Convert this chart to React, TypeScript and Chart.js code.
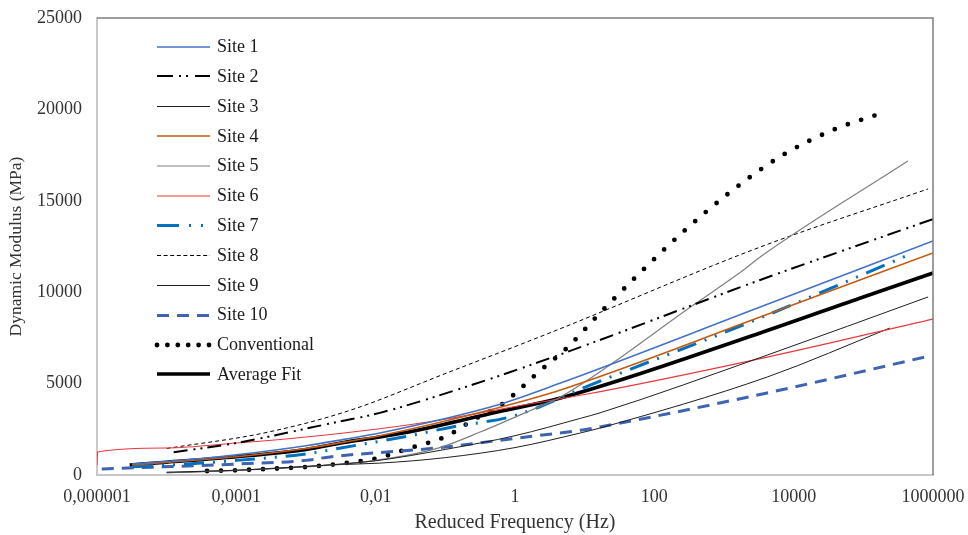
import { useEffect, useRef } from "react";
import { Chart, registerables } from "chart.js";

Chart.register(...registerables);

const seriesNames = [
  "Site 1", "Site 2", "Site 3", "Site 4", "Site 5", "Site 6",
  "Site 7", "Site 8", "Site 9", "Site 10", "Conventional", "Average Fit",
];

// Reduced frequency (Hz) and dynamic modulus (MPa) for each series
const site1Freq = [3.16e-6, 3.16e-5, 1e-4, 1e-3, 3.5e-3, 0.0115, 0.56, 4.5, 3310, 1e6];
const site1Mod = [600, 900, 1100, 1600, 1950, 2300, 3830, 5030, 9190, 12800];

const site2Freq = [1.26e-5, 1e-4, 2.1e-3, 0.0115, 0.25, 4.5, 3310, 1e6];
const site2Mod = [1250, 1750, 2800, 3400, 4950, 6600, 10670, 14000];

const site3Freq = [1e-5, 1e-4, 1e-3, 0.01, 0.1, 1, 8.7, 16.6, 4170, 851000];
const site3Mod = [150, 260, 460, 780, 1400, 2150, 3100, 3400, 6560, 9740];

const site4Freq = [3.16e-6, 1e-4, 1e-3, 3.5e-3, 0.0115, 0.56, 4.5, 3310, 1e6];
const site4Mod = [550, 1000, 1450, 1800, 2150, 3670, 4650, 8640, 12150];

const site5Freq = [1e-5, 1e-4, 1e-3, 0.01, 0.083, 0.316, 1.6, 4.5, 400, 1740, 3310, 436000];
const site5Mod = [140, 250, 450, 800, 1500, 2350, 3500, 4270, 9410, 11100, 11930, 17180];

const site6Freq = [1e-6, 1.02e-6, 1e-5, 1e-4, 1e-3, 0.01, 0.1, 1, 10, 4170, 1e6];
const site6Mod = [550, 1260, 1480, 1750, 2080, 2500, 3050, 3750, 4400, 6450, 8530];

const site7Freq = [3.3e-6, 3.16e-5, 1e-4, 1e-3, 3.16e-3, 0.025, 0.126, 1, 12, 3310, 513000];
const site7Mod = [450, 650, 800, 1150, 1480, 2080, 2630, 3250, 4920, 8590, 12140];

const site8Freq = [1e-5, 2.5e-4, 4e-3, 0.105, 4, 3310, 851000];
const site8Mod = [1450, 2300, 3500, 5580, 7930, 12470, 15650];

const site9Freq = [1e-5, 1e-4, 2.2e-3, 0.0115, 0.1, 1, 8.7, 16.6, 4170, 240000];
const site9Mod = [120, 250, 550, 650, 950, 1500, 2300, 2570, 5360, 8040];

const site10Freq = [1.17e-6, 4e-6, 1e-4, 1e-3, 2.2e-3, 0.085, 1.07, 8.7, 16.6, 4170, 759000];
const site10Mod = [330, 400, 600, 800, 990, 1500, 2020, 2450, 2630, 4490, 6450];

const convFreq = [3.8e-5, 1e-4, 3.16e-4, 1e-3, 3.16e-3, 0.01, 0.0316, 0.105, 0.25, 0.63, 1, 2.1, 5.75, 16.6, 62, 257, 1230, 6300, 36300, 186000];
const convMod = [220, 260, 340, 440, 620, 900, 1480, 2130, 3010, 3830, 4450, 5580, 7000, 8860, 11050, 13290, 15480, 17400, 18870, 19800];

const avgFreq = [2.95e-6, 1e-5, 1e-4, 1e-3, 3.5e-3, 0.0115, 0.04, 0.56, 4.5, 3310, 1e5, 1e6];
const avgMod = [550, 700, 1000, 1400, 1780, 2080, 2450, 3450, 4210, 7770, 9740, 11050];

const xTickValues = [1e-6, 1e-4, 1e-2, 1, 100, 1e4, 1e6];
const xTickLabels = ["0,000001", "0,0001", "0,01", "1", "100", "10000", "1000000"];
const yTickValues = [0, 5000, 10000, 15000, 20000, 25000];

const seriesFreqs = [site1Freq, site2Freq, site3Freq, site4Freq, site5Freq, site6Freq, site7Freq, site8Freq, site9Freq, site10Freq, convFreq, avgFreq];
const seriesMods = [site1Mod, site2Mod, site3Mod, site4Mod, site5Mod, site6Mod, site7Mod, site8Mod, site9Mod, site10Mod, convMod, avgMod];

const seriesStyles = [
  { color: "#4472C4", width: 1.6, dash: [], legendDash: [], cap: "butt" },
  { color: "#000000", width: 2, dash: [14, 6, 2, 5, 2, 5], legendDash: [16, 6, 2, 5, 2, 7], cap: "butt" },
  { color: "#1f1f1f", width: 1, dash: [], legendDash: [], cap: "butt" },
  { color: "#C55A11", width: 1.6, dash: [], legendDash: [], cap: "butt" },
  { color: "#7F7F7F", width: 1.2, dash: [], legendDash: [], cap: "butt" },
  { color: "#E8383D", width: 1.1, dash: [], legendDash: [], cap: "butt" },
  { color: "#0070C0", width: 3, dash: [20, 9, 2, 9, 2, 9], legendDash: [22, 10, 2, 10, 2, 10], cap: "butt" },
  { color: "#000000", width: 1, dash: [4, 3], legendDash: [4, 2.6], cap: "butt" },
  { color: "#1f1f1f", width: 1, dash: [], legendDash: [], cap: "butt" },
  { color: "#3F63B2", width: 3, dash: [12, 8], legendDash: [12, 8], cap: "butt" },
  { color: "#000000", width: 4.8, dash: [0, 14], legendDash: [0, 10.4], cap: "round" },
  { color: "#000000", width: 3.6, dash: [], legendDash: [], cap: "butt" },
];

const FONT = '"Liberation Serif", "Times New Roman", serif';

const frameAndLegend = {
  id: "frameAndLegend",
  afterDraw(chart: any) {
    const ctx = chart.ctx;
    const a = chart.chartArea;
    ctx.save();
    ctx.strokeStyle = "#7F7F7F";
    ctx.lineWidth = 1.5;
    ctx.setLineDash([]);
    ctx.beginPath();
    ctx.moveTo(a.left, a.top);
    ctx.lineTo(a.right, a.top);
    ctx.lineTo(a.right, a.bottom);
    ctx.stroke();
    ctx.restore();

    chart.data.datasets.forEach((ds: any, i: number) => {
      const st = seriesStyles[i];
      const yText = a.top + 28.5 + i * 29.8;
      const yLine = Math.round(yText) + (st.width % 2 === 1 ? 0.5 : 0);
      ctx.save();
      ctx.beginPath();
      ctx.strokeStyle = st.color;
      ctx.lineWidth = st.width;
      ctx.lineCap = st.cap;
      ctx.setLineDash(st.legendDash);
      ctx.moveTo(a.left + 60, yLine);
      ctx.lineTo(a.left + 113, yLine);
      ctx.stroke();
      ctx.setLineDash([]);
      ctx.fillStyle = "#1a1a1a";
      ctx.font = "18px " + FONT;
      ctx.textBaseline = "middle";
      ctx.textAlign = "left";
      ctx.fillText(ds.label, a.left + 120, yText + 1);
      ctx.restore();
    });
  },
};

export default function App() {
  const ref = useRef<HTMLCanvasElement | null>(null);

  useEffect(() => {
    if (!ref.current) return;
    const datasets = seriesNames.map((name, i) => {
      const st = seriesStyles[i];
      return {
        label: name,
        data: seriesFreqs[i].map((f, j) => ({ x: f, y: seriesMods[i][j] })),
        borderColor: st.color,
        backgroundColor: st.color,
        borderWidth: st.width,
        borderDash: st.dash,
        borderCapStyle: st.cap,
        pointRadius: 0,
        pointHoverRadius: 0,
        fill: false,
        cubicInterpolationMode: "monotone",
      };
    });
    const chart = new Chart(ref.current, {
      type: "line",
      data: { datasets: datasets as any },
      options: {
        responsive: false,
        animation: false,
        events: [],
        layout: { padding: { top: 18, right: 35, left: 0, bottom: 0 } },
        plugins: { legend: { display: false }, tooltip: { enabled: false } },
        scales: {
          x: {
            type: "logarithmic",
            min: 1e-6,
            max: 1e6,
            afterBuildTicks: (scale: any) => {
              scale.ticks = xTickValues.map((v) => ({ value: v }));
            },
            afterFit: (scale: any) => {
              scale.height = 60;
              scale.paddingLeft = 0;
              scale.paddingRight = 0;
            },
            grid: { display: false, drawTicks: false },
            border: { display: true, color: "#C8C8C8", width: 2 },
            ticks: {
              autoSkip: false,
              maxRotation: 0,
              padding: 11,
              color: "#333333",
              font: { family: FONT, size: 18 },
              callback: (_v: any, idx: number) => xTickLabels[idx],
            },
            title: {
              display: true,
              text: "Reduced Frequency (Hz)",
              color: "#333333",
              font: { family: FONT, size: 20 },
              padding: { top: 0, bottom: 0 },
            },
          },
          y: {
            type: "linear",
            min: 0,
            max: 25000,
            afterBuildTicks: (scale: any) => {
              scale.ticks = yTickValues.map((v) => ({ value: v }));
            },
            afterFit: (scale: any) => {
              scale.width = 97;
              scale.paddingTop = 0;
              scale.paddingBottom = 0;
            },
            grid: { display: false, drawTicks: false },
            border: { display: true, color: "#C8C8C8", width: 2 },
            ticks: {
              padding: 15,
              color: "#333333",
              font: { family: FONT, size: 18 },
              callback: (v: any) => String(v),
            },
            title: {
              display: true,
              text: "Dynamic Modulus (MPa)",
              color: "#333333",
              font: { family: FONT, size: 17.5 },
              padding: { top: 6, bottom: 0 },
            },
          },
        },
      },
      plugins: [frameAndLegend],
    });
    return () => chart.destroy();
  }, []);

  return (
    <div style={{ position: "absolute", left: 0, top: 0, width: 968, height: 535, background: "#fff" }}>
      <canvas ref={ref} width={968} height={535} />
    </div>
  );
}
